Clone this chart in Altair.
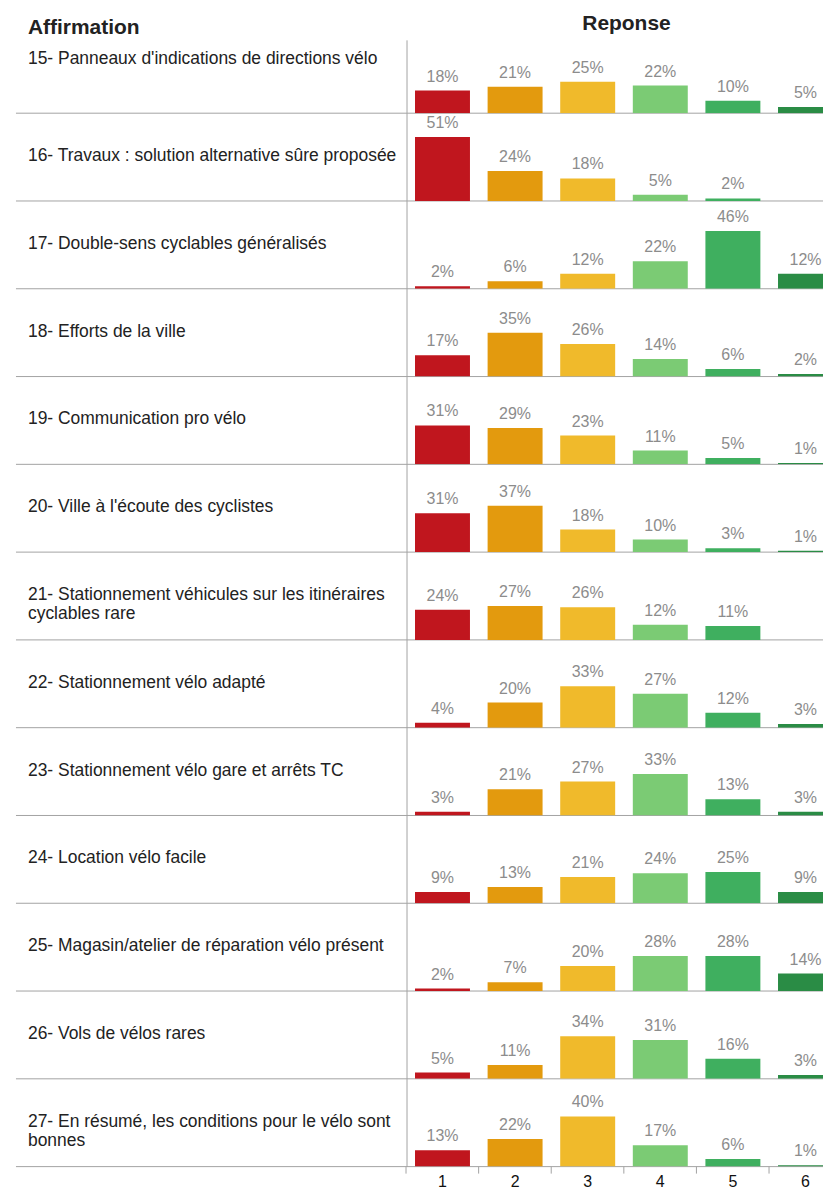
import altair as alt
import pandas as pd

# ---- data ----
ids = [15, 16, 17, 18, 19, 20, 21, 22, 23, 24, 25, 26, 27]
labels = [
    "15- Panneaux d'indications de directions vélo",
    "16- Travaux : solution alternative sûre proposée",
    "17- Double-sens cyclables généralisés",
    "18- Efforts de la ville",
    "19- Communication pro vélo",
    "20- Ville à l'écoute des cyclistes",
    "21- Stationnement véhicules sur les itinéraires\ncyclables rare",
    "22- Stationnement vélo adapté",
    "23- Stationnement vélo gare et arrêts TC",
    "24- Location vélo facile",
    "25- Magasin/atelier de réparation vélo présent",
    "26- Vols de vélos rares",
    "27- En résumé, les conditions pour le vélo sont\nbonnes",
]
responses = [1, 2, 3, 4, 5, 6]
resp1 = [18, 51, 2, 17, 31, 31, 24, 4, 3, 9, 2, 5, 13]
resp2 = [21, 24, 6, 35, 29, 37, 27, 20, 21, 13, 7, 11, 22]
resp3 = [25, 18, 12, 26, 23, 18, 26, 33, 27, 21, 20, 34, 40]
resp4 = [22, 5, 22, 14, 11, 10, 12, 27, 33, 24, 28, 31, 17]
resp5 = [10, 2, 46, 6, 5, 3, 11, 12, 13, 25, 28, 16, 6]
resp6 = [5, None, 12, 2, 1, 1, None, 3, 3, 9, 14, 3, 1]
colors = ["#c0161e", "#e39a0e", "#f0ba2b", "#7bcb74", "#3faf5f", "#2a8c45"]

series = [resp1, resp2, resp3, resp4, resp5, resp6]
records = []
for i, (rid, lab) in enumerate(zip(ids, labels)):
    for r, vals in zip(responses, series):
        v = vals[i]
        records.append({
            "id": rid,
            "lines": lab.split("\n"),
            "resp": r,
            "pct": v,
            "txt": (f"{v}%" if v is not None else ""),
        })
df = pd.DataFrame(records)

H = 88
W = 816
FONT = "Liberation Sans"
GRAY = "#a3a3a3"

xscale = alt.Scale(domain=responses, range=[399, 834], paddingInner=0.243, paddingOuter=0.11)
yscale = alt.Scale(domain=[0, 68])

base = alt.Chart()

bars = base.mark_bar(clip=True).encode(
    x=alt.X("resp:O", scale=xscale, axis=None),
    y=alt.Y("pct:Q", scale=yscale, axis=None),
    color=alt.Color("resp:O", scale=alt.Scale(domain=responses, range=colors), legend=None),
).transform_filter("isValid(datum.pct)")

pcts = base.mark_text(baseline="bottom", dy=-6, fontSize=16, color="#8c8c8c", font=FONT).encode(
    x=alt.X("resp:O"),
    y=alt.Y("pct:Q"),
    text=alt.Text("txt:N"),
).transform_filter("isValid(datum.pct)")

label_mark = dict(align="left", baseline="middle", fontSize=17.5, color="#222",
                  lineHeight=19, font=FONT)
row_labels = base.mark_text(**label_mark).encode(
    x=alt.value(19), y=alt.value(43), text=alt.Text("lines:N"),
).transform_filter("datum.resp == 1 && datum.id != 15")
first_label = base.mark_text(**label_mark).encode(
    x=alt.value(19), y=alt.value(34), text=alt.Text("lines:N"),
).transform_filter("datum.resp == 1 && datum.id == 15")

sep = base.mark_rule(color=GRAY, strokeWidth=1).encode(
    x=alt.value(7), x2=alt.value(W), y=alt.value(H),
).transform_filter("datum.resp == 1")

vline = base.mark_rule(color=GRAY, strokeWidth=1).encode(
    x=alt.value(399), y=alt.value(0), y2=alt.value(H),
).transform_filter("datum.resp == 1 && datum.id != 15")
vline_first = base.mark_rule(color=GRAY, strokeWidth=1).encode(
    x=alt.value(399), y=alt.value(15), y2=alt.value(H),
).transform_filter("datum.resp == 1 && datum.id == 15")

ticks = base.mark_rule(color=GRAY, strokeWidth=1, xOffset=-9).encode(
    x=alt.X("resp:O", bandPosition=0),
    y=alt.value(H), y2=alt.value(H + 7),
).transform_filter("datum.id == 27")

xlabels = base.mark_text(baseline="top", fontSize=16, color="#111", font=FONT).encode(
    x=alt.X("resp:O"),
    y=alt.value(H + 7),
    text=alt.Text("resp:N"),
).transform_filter("datum.id == 27")

panel = alt.layer(sep, vline, vline_first, bars, pcts, row_labels, first_label, ticks, xlabels,
                  data=df).properties(width=W, height=H).facet(
    row=alt.Row("id:O", title=None, header=alt.Header(labels=False, labelPadding=0, titlePadding=0)),
    spacing=0,
    bounds="flush",
)

head_df = pd.DataFrame({"a": ["Affirmation"], "b": ["Reponse"]})
h1 = alt.Chart(head_df).mark_text(align="left", baseline="top", fontSize=21,
                                  fontWeight="bold", color="#222", font=FONT).encode(
    x=alt.value(19), y=alt.value(7), text="a:N")
h2 = alt.Chart(head_df).mark_text(align="center", baseline="top", fontSize=21,
                                  fontWeight="bold", color="#222", font=FONT).encode(
    x=alt.value(619), y=alt.value(3), text="b:N")
header = alt.layer(h1, h2).properties(width=W, height=15)

chart = alt.vconcat(header, panel, spacing=0, bounds="flush").properties(padding=0).configure(
    font=FONT, view=alt.ViewConfig(stroke="transparent")
)

chart.save("out.html", embed_options={"renderer": "svg", "actions": False})
